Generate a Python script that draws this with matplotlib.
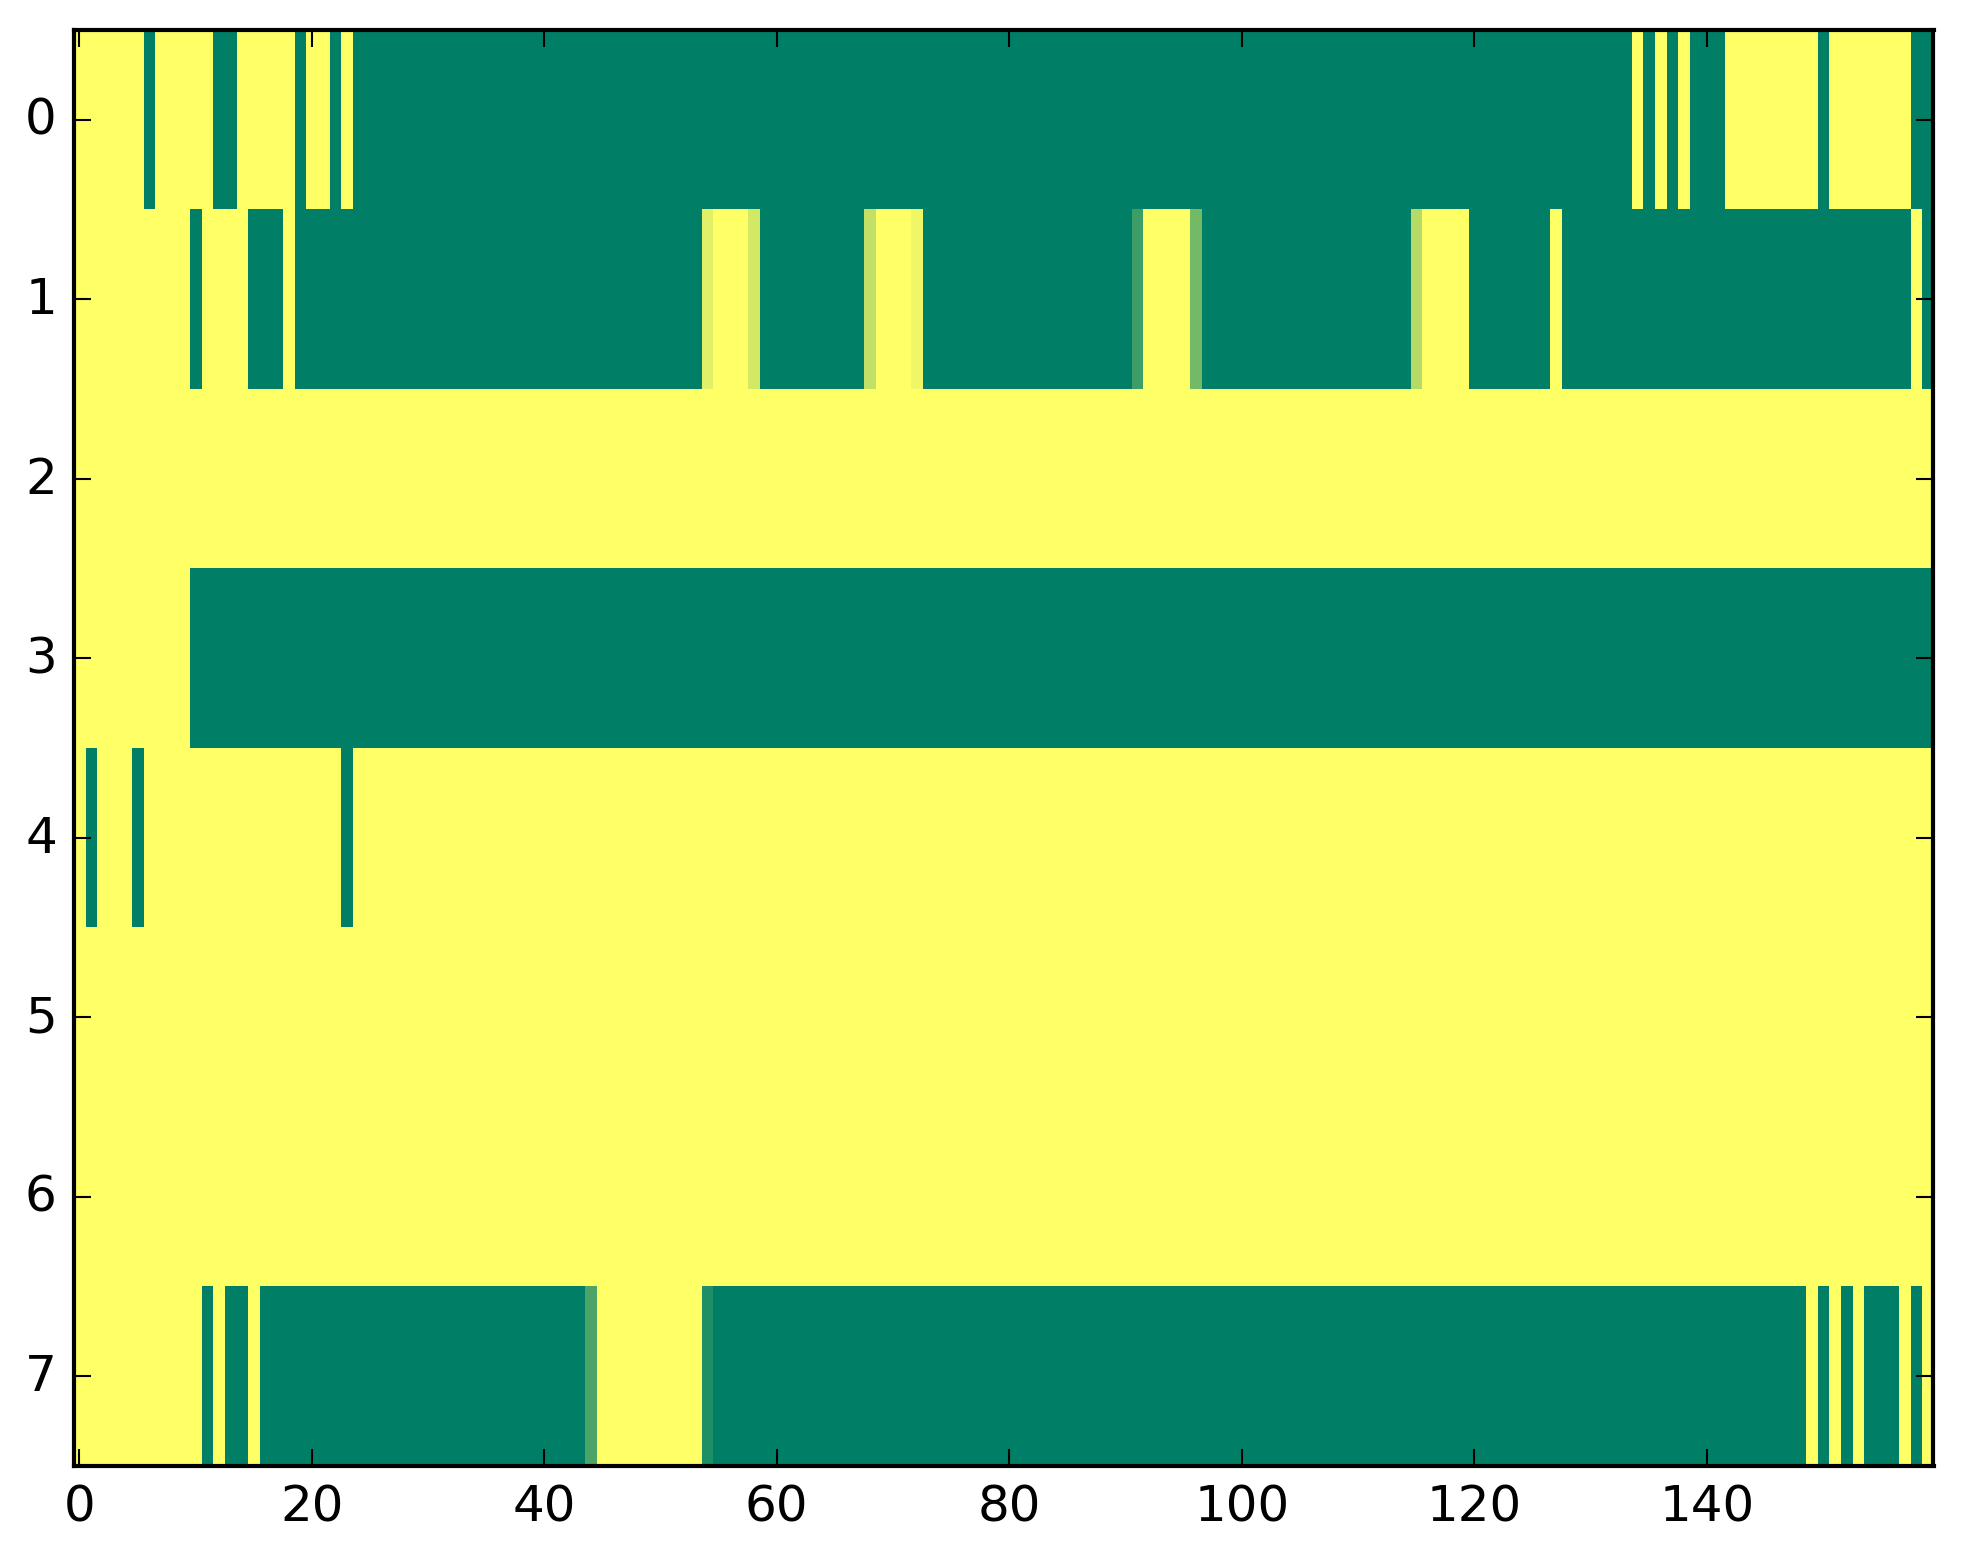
import numpy as np
import matplotlib
matplotlib.use("Agg")
import matplotlib.pyplot as plt

plt.style.use("classic")

n_rows = 8
n_cols = 160

# green (value 0) runs per row, inclusive column ranges; everything else is yellow (1)
green_runs = {
    0: [(6, 6), (12, 13), (19, 19), (22, 22), (24, 133), (135, 135), (137, 137),
        (139, 141), (150, 150), (158, 159)],
    1: [(10, 10), (15, 17), (19, 53), (59, 67), (73, 90), (97, 114), (120, 126),
        (128, 157), (159, 159)],
    2: [],
    3: [(10, 159)],
    4: [(1, 1), (5, 5), (23, 23)],
    5: [],
    6: [],
    7: [(11, 11), (13, 14), (16, 43), (55, 148), (150, 150), (152, 152),
        (154, 156), (158, 158)],
}

# cells with in-between values
partial_cells = {
    1: {54: 0.88, 58: 0.83, 68: 0.76, 72: 0.94, 91: 0.24, 96: 0.45, 115: 0.71},
    7: {44: 0.30, 54: 0.12},
}

grid = np.ones((n_rows, n_cols))
for r, runs in green_runs.items():
    for a, b in runs:
        grid[r, a:b + 1] = 0.0
for r, cells in partial_cells.items():
    for c, v in cells.items():
        grid[r, c] = v

fig = plt.figure(figsize=(1963 / 300, 1564 / 300), dpi=300)
ax = fig.add_axes([73.5 / 1963, 97 / 1564, 1860 / 1963, 1436 / 1564])
ax.imshow(grid, cmap="summer", vmin=0, vmax=1, aspect="auto",
          interpolation="nearest")
ax.set_xticks(np.arange(0, 141, 20))
ax.set_yticks(np.arange(0, 8))

fig.savefig("out.png", dpi=300)
